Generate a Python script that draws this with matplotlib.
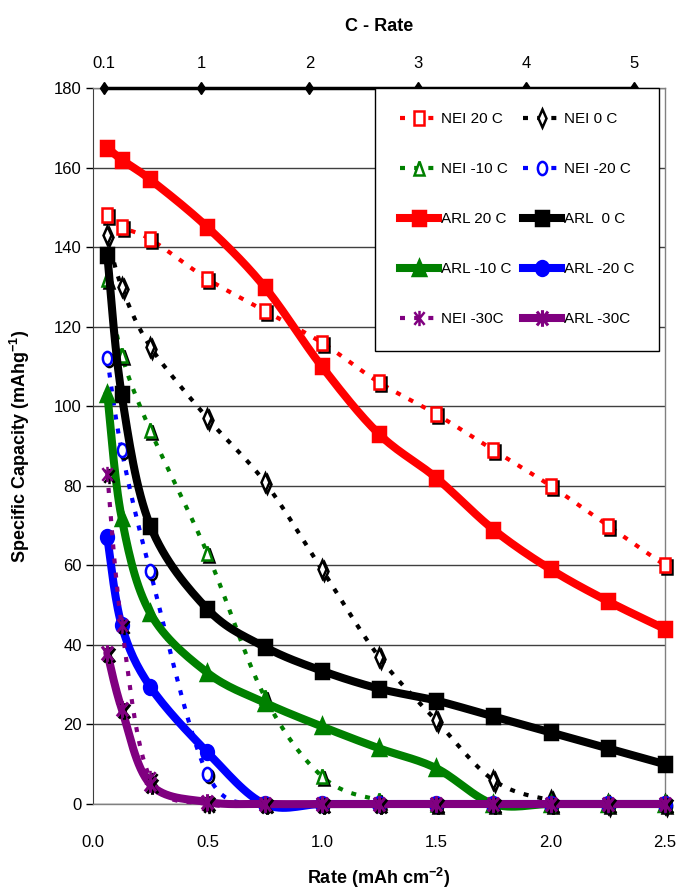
import numpy as np
import matplotlib
matplotlib.use('Agg')
import matplotlib.pyplot as plt
from matplotlib.path import Path
from matplotlib.markers import MarkerStyle
from matplotlib.transforms import offset_copy, Affine2D

plt.rcParams['font.family'] = ['Liberation Sans', 'DejaVu Sans']
plt.rcParams['mathtext.fontset'] = 'custom'
plt.rcParams['mathtext.rm'] = 'Liberation Sans:bold'
plt.rcParams['mathtext.default'] = 'rm'

# rate in mAh cm-2 (bottom axis)
rate = [0.0625, 0.125, 0.25, 0.5, 0.75, 1.0, 1.25, 1.5, 1.75, 2.0, 2.25, 2.5]

# specific capacity, mAh/g
nei_20 = [148, 145, 142, 132, 124, 116, 106, 98, 89, 80, 70, 60]
nei_0 = [143, 130, 115, 97, 81, 59, 37, 21, 6, 1, 0, 0]
nei_m10 = [132, 113, 94, 63, 27, 7, 1, 0, 0, 0, 0, 0]
nei_m20 = [112, 89, 58.5, 7.5, 0, 0, 0, 0, 0, 0, 0, 0]
nei_m30 = [83, 45, 6.5, 0, 0, 0, 0, 0, 0, 0, 0, 0]
arl_20 = [165, 162, 157, 145, 130, 110, 93, 82, 69, 59, 51, 44]
arl_0 = [138, 103, 70, 49, 39.5, 33.5, 29, 26, 22, 18, 14, 10]
arl_m10 = [103, 72, 48, 33, 25.5, 19.5, 14, 9, 0, 0, 0, 0]
arl_m20 = [67, 45, 29.5, 13, 0, 0, 0, 0, 0, 0, 0, 0]
arl_m30 = [38, 24, 5, 0.5, 0, 0, 0, 0, 0, 0, 0, 0]

# top axis
c_rate = [0.1, 1, 2, 3, 4, 5]
c_labels = ['0.1', '1', '2', '3', '4', '5']
C_PER = 0.473   # mAh cm-2 per 1C

W, H = 678, 891
fig = plt.figure(figsize=(W / 100, H / 100), dpi=100)
ax = fig.add_axes([93 / W, 1 - 804 / H, (665 - 93) / W, (804 - 88) / H])
ax.set_xlim(0, 2.5)
ax.set_ylim(0, 180)

# excel style star marker: X plus vertical bar
star = Path([(-1, -1), (1, 1), (-1, 1), (1, -1), (0, -1.2), (0, 1.2)],
            [Path.MOVETO, Path.LINETO, Path.MOVETO, Path.LINETO, Path.MOVETO, Path.LINETO])


def narrow(mk, sx):
    return MarkerStyle(mk, transform=Affine2D().scale(sx, 1.0))


px_x = (665 - 93) / 2.5
px_y = (804 - 88) / 180.0


def smooth(x, y, n=16):
    # excel-like smoothed line (catmull-rom in pixel space)
    p = np.column_stack([np.asarray(x) * px_x, np.asarray(y) * px_y])
    p = np.vstack([p[0], p, p[-1]])
    out = []
    t = np.linspace(0, 1, n, endpoint=False)[:, None]
    for i in range(1, len(p) - 2):
        p0, p1, p2, p3 = p[i - 1], p[i], p[i + 1], p[i + 2]
        c1 = p1 + (p2 - p0) / 6
        c2 = p2 - (p3 - p1) / 6
        seg = ((1 - t) ** 3) * p1 + 3 * ((1 - t) ** 2) * t * c1 + 3 * (1 - t) * t ** 2 * c2 + t ** 3 * p2
        out.append(seg)
    out.append(p[-2][None, :])
    out = np.vstack(out)
    return out[:, 0] / px_x, out[:, 1] / px_y


shadow = offset_copy(ax.transData, fig=fig, x=2, y=-2, units='dots')

series = [
    ('NEI 20 C', nei_20, 'red', 'nei', 's', 3),
    ('NEI 0 C', nei_0, 'black', 'nei', 'd', 3),
    ('NEI -10 C', nei_m10, 'green', 'nei', '^', 3),
    ('NEI -20 C', nei_m20, 'blue', 'nei', 'o', 3),
    ('ARL 20 C', arl_20, 'red', 'arl', 's', 4),
    ('ARL  0 C', arl_0, 'black', 'arl', 's', 4),
    ('ARL -10 C', arl_m10, 'green', 'arl', '^', 4),
    ('ARL -20 C', arl_m20, 'blue', 'arl', 'o', 4),
    ('NEI -30C', nei_m30, 'purple', 'nei', star, 5),
    ('ARL -30C', arl_m30, 'purple', 'arl', star, 6),
]

handles = {}
for name, vals, col, kind, mk, z in series:
    sx, sy = smooth(rate, vals)
    is_star = mk is star
    if kind == 'nei':
        m = narrow(mk, 0.8 if is_star else 0.7)
        ms = 11 if is_star else 9.5
        ax.plot(sx, sy, color=col, lw=3, ls=(0, (1.2, 2.2)), clip_on=False, zorder=z)
        ax.plot(rate, vals, ls='none', marker=m, ms=ms, mfc='none', mec='black', mew=1.8,
                transform=shadow, clip_on=False, zorder=z)
        ax.plot(rate, vals, ls='none', marker=m, ms=ms, mfc='white', mec=col, mew=1.8,
                clip_on=False, zorder=z)
        h, = ax.plot([], [], color=col, lw=3, ls=(0, (1.2, 2.2)), marker=m, ms=ms,
                     mfc='white', mec=col, mew=1.8)
    else:
        m = narrow(mk, 0.8 if is_star else 0.85)
        ms = 12 if is_star else 10
        mew = 2.2 if is_star else 2.5
        ax.plot(sx, sy, color=col, lw=5.8, solid_capstyle='round', clip_on=False, zorder=z)
        if is_star:
            ax.plot(rate, vals, ls='none', marker=m, ms=ms, mfc='none', mec='black', mew=mew,
                    transform=shadow, clip_on=False, zorder=z)
        ax.plot(rate, vals, ls='none', marker=m, ms=ms, color=col, mew=mew,
                clip_on=False, zorder=z)
        h, = ax.plot([], [], color=col, lw=5.8, marker=m, ms=ms, mew=mew)
    handles[name] = h

# C-rate line across the top
ax.plot(np.array(c_rate) * C_PER, [180] * len(c_rate), color='black', lw=2.5,
        marker='d', ms=6, clip_on=False, zorder=7)

ax.yaxis.grid(True, color='#404040', lw=1)
ax.set_axisbelow(True)
ax.set_yticks(np.arange(0, 181, 20))
ax.set_xticks(np.arange(0, 2.51, 0.5))
ax.set_xticklabels(['0.0', '0.5', '1.0', '1.5', '2.0', '2.5'])
ax.tick_params(axis='y', labelsize=12, length=5, pad=3, width=1)
ax.tick_params(axis='x', labelsize=12, length=0, pad=22)
for s in ['top', 'right', 'bottom']:
    ax.spines[s].set_color('#808080')
    ax.spines[s].set_linewidth(1)
ax.spines['left'].set_color('#404040')

ax.set_ylabel('Specific Capacity (mAhg$^{-1}$)', fontsize=13, fontweight='bold', labelpad=16)
ax.set_xlabel('Rate (mAh cm$^{-2}$)', fontsize=13, fontweight='bold', labelpad=12)

secax = ax.secondary_xaxis('top', functions=(lambda x: x / C_PER, lambda c: c * C_PER))
secax.set_xticks(c_rate)
secax.set_xticklabels(c_labels)
secax.tick_params(labelsize=12, length=0, pad=12)
secax.spines['top'].set_visible(False)
secax.set_xlabel('C - Rate', fontsize=13, fontweight='bold', labelpad=18)

order = ['NEI 20 C', 'NEI -10 C', 'ARL 20 C', 'ARL -10 C', 'NEI -30C',
         'NEI 0 C', 'NEI -20 C', 'ARL  0 C', 'ARL -20 C', 'ARL -30C']
leg = ax.legend([handles[k] for k in order], order, ncol=2, loc='upper right',
                bbox_to_anchor=(0.99, 1.0), fontsize=11, frameon=True, fancybox=False,
                edgecolor='black', framealpha=1, labelspacing=2.35, handlelength=2.5,
                handletextpad=0.2, columnspacing=0.75, borderpad=1.6, borderaxespad=0)
leg.get_frame().set_linewidth(1)
leg.set_zorder(10)

fig.savefig('out.png', dpi=100)
